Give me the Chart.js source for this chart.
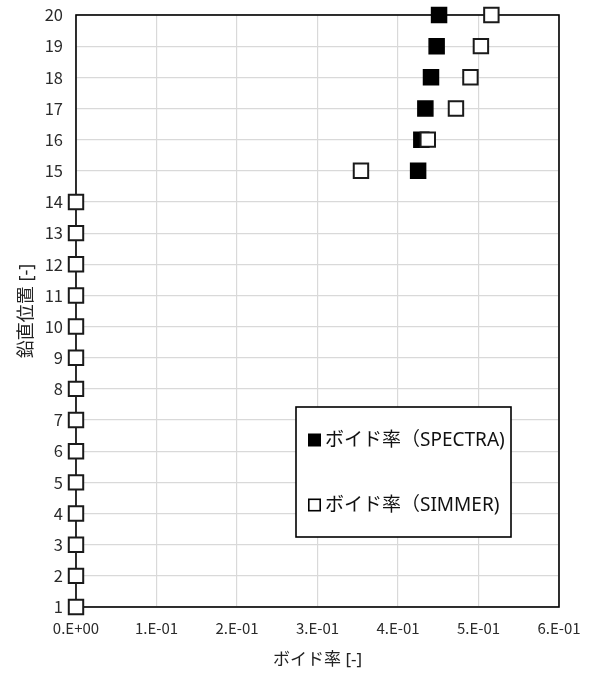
<!DOCTYPE html>
<html lang="ja">
<head>
<meta charset="utf-8">
<script src="https://cdn.jsdelivr.net/npm/chart.js@4.4.1/dist/chart.umd.min.js"></script>
<style>
  html, body { margin: 0; padding: 0; background: #ffffff; }
  #wrap { width: 593px; height: 675px; position: relative; }
</style>
</head>
<body>
<div id="wrap"><canvas id="chart" width="593" height="675"></canvas></div>
<script>
// Vertical positions (cells 1..20)
const positions = [1,2,3,4,5,6,7,8,9,10,11,12,13,14,15,16,17,18,19,20];

// SPECTRA void fraction, cells 15..20
const spectraPositions = [15, 16, 17, 18, 19, 20];
const spectraVoid = [0.425, 0.429, 0.434, 0.441, 0.448, 0.451];

// SIMMER void fraction, cells 1..20
const simmerVoid = [0,0,0,0,0,0,0,0,0,0,0,0,0,0, 0.354, 0.437, 0.472, 0.490, 0.503, 0.516];

const seriesLabels = ['ボイド率（SPECTRA)', 'ボイド率（SIMMER)'];
const xTitle = 'ボイド率 [-]';
const yTitle = '鉛直位置 [-]';

const jpFont = '"Noto Sans", "Noto Sans CJK JP", sans-serif';
const tickFont = '"Noto Sans CJK JP", sans-serif';

// Excel-like "0.E+00" number format
function sciLabel(v) {
  if (Math.abs(v) < 1e-12) return '0.E+00';
  const e = Math.floor(Math.log10(Math.abs(v)) + 1e-9);
  const m = Math.round(v / Math.pow(10, e));
  const sign = e < 0 ? '-' : '+';
  const ae = Math.abs(e);
  return m + '.E' + sign + (ae < 10 ? '0' + ae : '' + ae);
}

// Black frame around the plotting area
const framePlugin = {
  id: 'frame',
  beforeDatasetsDraw(chart) {
    const a = chart.chartArea, ctx = chart.ctx;
    ctx.save();
    ctx.strokeStyle = '#000';
    ctx.lineWidth = 1.6;
    ctx.strokeRect(a.left, a.top, a.right - a.left, a.bottom - a.top);
    ctx.restore();
  }
};

// Boxed legend inside the plot area
const boxLegend = {
  id: 'boxLegend',
  afterDraw(chart) {
    const a = chart.chartArea, ctx = chart.ctx;
    const x0 = a.left + 220, y0 = a.top + 392, w = 215, h = 130;
    ctx.save();
    ctx.fillStyle = '#fff';
    ctx.fillRect(x0, y0, w, h);
    ctx.strokeStyle = '#000';
    ctx.lineWidth = 1.6;
    ctx.strokeRect(x0, y0, w, h);
    ctx.font = '19px ' + jpFont;
    ctx.textBaseline = 'middle';
    ctx.textAlign = 'left';
    const rows = [y0 + 33, y0 + 98];
    chart.data.datasets.forEach((ds, i) => {
      const cy = rows[i];
      const mx = x0 + 12, size = 13;
      if (ds.backgroundColor === '#000000') {
        ctx.fillStyle = '#000';
        ctx.fillRect(mx, cy - size / 2, size, size);
      } else {
        ctx.strokeStyle = '#000';
        ctx.lineWidth = 1.6;
        ctx.strokeRect(mx + 0.8, cy - size / 2 + 0.8, size - 1.6, size - 1.6);
      }
      ctx.fillStyle = '#111';
      ctx.fillText(ds.label, x0 + 29, cy + 1);
    });
    ctx.restore();
  }
};

new Chart(document.getElementById('chart'), {
  type: 'scatter',
  data: {
    datasets: [
      {
        label: seriesLabels[0],
        data: spectraPositions.map((p, i) => ({ x: spectraVoid[i], y: p })),
        pointStyle: 'rect',
        pointRadius: 10.6,
        pointHoverRadius: 10.6,
        backgroundColor: '#000000',
        borderColor: '#000000',
        borderWidth: 1.5,
        clip: false,
        order: 2
      },
      {
        label: seriesLabels[1],
        data: positions.map((p, i) => ({ x: simmerVoid[i], y: p })),
        pointStyle: 'rect',
        pointRadius: 10.2,
        pointHoverRadius: 10.2,
        backgroundColor: '#ffffff',
        borderColor: '#1a1a1a',
        borderWidth: 2,
        clip: false,
        order: 1
      }
    ]
  },
  options: {
    responsive: false,
    animation: false,
    events: [],
    layout: { padding: { top: 15, right: 34, bottom: 0, left: 0 } },
    plugins: {
      legend: { display: false },
      tooltip: { enabled: false }
    },
    scales: {
      x: {
        type: 'linear',
        min: 0,
        max: 0.6,
        afterFit(s) { s.height = 68; s.paddingLeft = 0; s.paddingRight = 0; },
        ticks: {
          stepSize: 0.1,
          padding: 12,
          color: '#2b2b2b',
          font: { size: 15, family: tickFont },
          maxRotation: 0,
          callback: (v) => sciLabel(v)
        },
        grid: { color: '#d9d9d9', lineWidth: 1.2, drawTicks: false },
        border: { display: false },
        title: {
          display: true,
          text: xTitle,
          color: '#222',
          font: { size: 17, family: jpFont },
          padding: { top: 0, bottom: 5 }
        }
      },
      y: {
        type: 'linear',
        min: 1,
        max: 20,
        afterFit(s) { s.width = 76; s.paddingTop = 0; s.paddingBottom = 0; },
        ticks: {
          stepSize: 1,
          padding: 13,
          color: '#2b2b2b',
          font: { size: 16.5, family: tickFont }
        },
        grid: { color: '#d9d9d9', lineWidth: 1.2, drawTicks: false },
        border: { display: false },
        title: {
          display: true,
          text: yTitle,
          color: '#222',
          font: { size: 18, family: jpFont },
          padding: { top: 16, bottom: 0 }
        }
      }
    }
  },
  plugins: [framePlugin, boxLegend]
});
</script>
</body>
</html>
